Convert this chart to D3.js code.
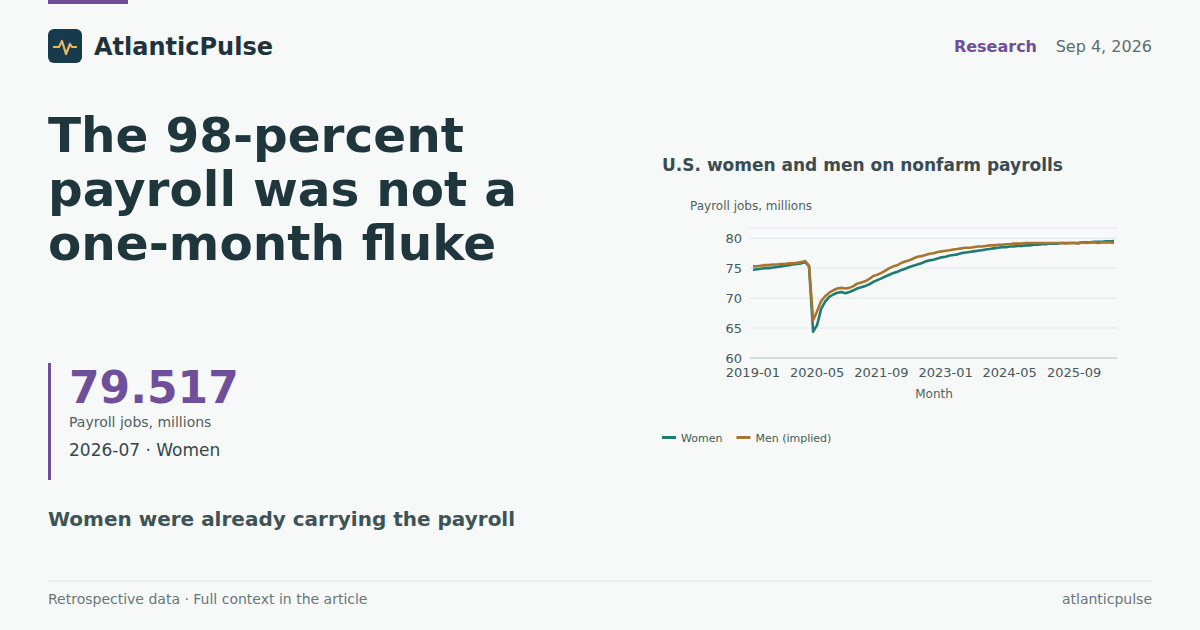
<!DOCTYPE html>
<html><head><meta charset="utf-8">
<script src="https://cdn.jsdelivr.net/npm/d3@7"></script>
<style>
body{margin:0;background:#f7f9f9;font-family:"DejaVu Sans",sans-serif;}
svg{display:block}
</style></head><body>
<svg id="c" width="1200" height="630"></svg>
<script>
const startMonth = "2019-01";
const xTicks = ["2019-01","2020-05","2021-09","2023-01","2024-05","2025-09"];
const yTicks = [60,65,70,75,80];
const women = [74.7,74.8,74.9,75.0,75.0,75.1,75.2,75.3,75.4,75.5,75.6,75.7,
75.8,76.0,75.3,64.4,65.5,68.2,69.4,70.2,70.6,70.9,71.0,70.8,
71.0,71.3,71.6,71.8,72.0,72.3,72.7,73.0,73.3,73.6,73.9,74.2,
74.4,74.7,74.9,75.2,75.4,75.6,75.8,76.1,76.3,76.4,76.6,76.8,
76.9,77.1,77.2,77.3,77.5,77.6,77.7,77.8,77.9,78.0,78.1,78.2,
78.3,78.4,78.5,78.5,78.6,78.6,78.7,78.7,78.8,78.8,78.9,78.9,
79.0,79.0,79.1,79.1,79.1,79.2,79.2,79.2,79.2,79.2,79.3,79.3,
79.3,79.4,79.4,79.4,79.5,79.5,79.517];
const men = [75.3,75.3,75.4,75.5,75.5,75.6,75.6,75.7,75.7,75.8,75.8,75.9,
76.0,76.2,75.4,66.3,67.8,69.5,70.3,70.9,71.3,71.6,71.7,71.6,
71.7,72.0,72.4,72.6,72.8,73.2,73.7,73.9,74.2,74.6,75.0,75.3,
75.5,75.9,76.1,76.3,76.6,76.9,77.0,77.2,77.4,77.5,77.7,77.8,
77.9,78.0,78.1,78.2,78.3,78.4,78.4,78.5,78.6,78.6,78.7,78.8,
78.8,78.9,78.9,79.0,79.0,79.1,79.1,79.1,79.2,79.2,79.2,79.2,
79.2,79.2,79.2,79.2,79.2,79.2,79.1,79.2,79.2,79.1,79.3,79.2,
79.3,79.3,79.2,79.3,79.3,79.3,79.2];
const seriesNames = ["Women","Men (implied)"];
const colors = ["#1f7a72","#a8752f"];

const svg = d3.select("#c");
const T = (x,y,t,s,w,c,a)=>svg.append("text").attr("x",x).attr("y",y).text(t)
  .attr("font-size",s).attr("font-weight",w).attr("fill",c).attr("text-anchor",a||"start");

svg.append("rect").attr("x",48).attr("y",0).attr("width",80).attr("height",4).attr("fill","#6f4f9a");
svg.append("rect").attr("x",48).attr("y",29).attr("width",34).attr("height",34).attr("rx",6).attr("fill","#173a4c");
svg.append("path").attr("d","M53,47 L59,47 L62,41 L66,54 L70,44 L72,47 L77,47")
  .attr("fill","none").attr("stroke","#e8b866").attr("stroke-width",2.2).attr("stroke-linejoin","round");
T(94,55,"AtlanticPulse",24,"bold","#1e333b");
T(1037,52,"Research",16,"bold","#6f4f9a","end");
T(1152,52,"Sep 4, 2026",16,"normal","#5a6c72","end");

["The 98-percent","payroll was not a","one-month fluke"].forEach((l,i)=>T(48,152+i*54,l,48.5,"bold","#1f363d"));

svg.append("rect").attr("x",48).attr("y",363).attr("width",3).attr("height",117).attr("fill","#6f4f9a");
T(69,403,"79.517",44,"bold","#6f4f9a");
T(69,427,"Payroll jobs, millions",14,"normal","#4f5f64");
T(69,456,"2026-07 · Women",17,"normal","#33474d");
T(48,526,"Women were already carrying the payroll",20,"bold","#3d5358");

svg.append("line").attr("x1",48).attr("x2",1152).attr("y1",581).attr("y2",581).attr("stroke","#dde3e4");
T(48,604,"Retrospective data · Full context in the article",14,"normal","#66777c");
T(1152,604,"atlanticpulse",14,"normal","#66777c","end");

// chart
T(662,171,"U.S. women and men on nonfarm payrolls",17,"bold","#3a4c52");
T(690,210,"Payroll jobs, millions",12,"normal","#4f5f64");
const p = d3.timeParse("%Y-%m");
const t0 = p(startMonth);
const dates = women.map((_,i)=>d3.timeMonth.offset(t0,i));
const x = d3.scaleTime().domain([dates[0],dates[dates.length-1]]).range([753,1114]);
const y = d3.scaleLinear().domain([60,81.7]).range([358,228]);
const g = svg.append("g");
[...yTicks,81.7].forEach(v=>g.append("line").attr("x1",750).attr("x2",1117).attr("y1",y(v)).attr("y2",y(v))
  .attr("stroke",v===60?"#a9c4c2":"#e1e6e7").attr("stroke-width",1));
yTicks.forEach(v=>T(742,y(v)+5,v,13,"normal","#44585e","end"));
xTicks.forEach(v=>T(x(p(v)),377,v,13,"normal","#44585e","middle"));
T(934,398,"Month",12,"normal","#4f5f64","middle");
const line = d3.line().x((d,i)=>x(dates[i])).y(d=>y(d));
[women,men].forEach((s,k)=>g.append("path").datum(s).attr("d",line).attr("fill","none")
  .attr("stroke",colors[k]).attr("stroke-width",2.6).attr("stroke-linejoin","round"));
let lx=662;
seriesNames.forEach((n,k)=>{
  svg.append("rect").attr("x",lx).attr("y",436).attr("width",14).attr("height",3).attr("fill",colors[k]);
  const t=T(lx+19,442,n,11,"normal","#44585e");
  lx += 19 + t.node().getComputedTextLength() + 14;
});
</script></body></html>
